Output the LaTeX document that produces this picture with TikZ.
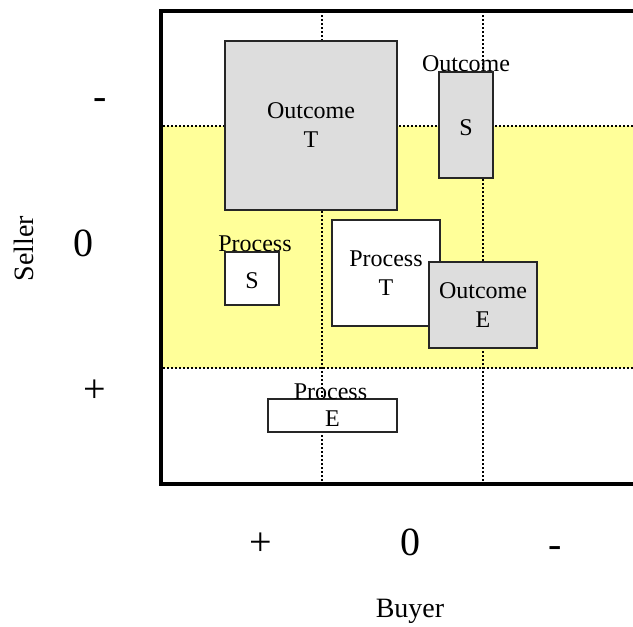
\documentclass[tikz,border=0pt]{standalone}
\usepackage{fontspec}
\setmainfont{Liberation Serif}
\usetikzlibrary{positioning}
\definecolor{bandyellow}{HTML}{FFFF99}
\definecolor{boxgrey}{HTML}{DDDDDD}
\begin{document}
\begin{tikzpicture}
  [x=0.5pt,y=-0.5pt,
   grid/.style={line width=1pt,dash pattern=on 1.2pt off 0.8pt},
   box/.style={draw=black!85,line width=0.6pt,fill=white,inner sep=0pt,
     align=center,font=\fontsize{12}{14.5}\selectfont,
     execute at begin node=\rule{0pt}{10.5pt}},
   outbox/.style={box,fill=boxgrey},
   tag/.style={inner sep=0pt,font=\fontsize{12}{14}\selectfont},
   val/.style={anchor=base,font=\fontsize{20}{24}\selectfont},
   axis/.style={font=\fontsize{14}{17}\selectfont}]
 \useasboundingbox (0,0) rectangle (633,627);

 % band and grid
 \fill[bandyellow] (161,126) rectangle (633,368);
 \foreach \y in {126,368}
   \draw[grid] (163,\y) -- (633,\y);
 \foreach \x in {322,483}
   \draw[grid] (\x,11) -- (\x,484);
 \draw[line width=1.75pt] (633,11) -- (161,11) -- (161,484) -- (633,484);

 % boxes
 \node[outbox,minimum width=86pt,minimum height=84.5pt] (ot) at (311,125.5) {Outcome\\T};
 \node[outbox,minimum width=27pt,minimum height=53pt]   (os) at (466,125)   {S};
 \node[box,minimum width=27pt,minimum height=26.5pt]    (ps) at (252,278.5) {S};
 \node[box,minimum width=54pt,minimum height=53pt]      (pt) at (386,273)   {Process\\T};
 \node[outbox,minimum width=54pt,minimum height=43pt]   (oe) at (483,305)   {Outcome\\E};
 \node[box,minimum width=64.5pt,minimum height=16.5pt]  (pe) at (332.5,415.5) {E};

 \node[tag,above=-0.5pt of os] (osl) {Outcome};
 \node[tag,above=-0.5pt of ps,xshift=1.5pt] (psl) {Process};
 \node[tag,above=-1pt of pe,xshift=-1pt] (pel) {Process};

 % axes
 \node[val] (sminus) at (100.5,109) {-};
 \node[val] (szero)  at (83.5,256)  {0};
 \node[val] (splus)  at (95,402)    {+};
 \node[val] (bplus)  at (261,555)   {+};
 \node[val] (bzero)  at (410,555)   {0};
 \node[val] (bminus) at (555.5,557) {-};
 \node[axis,rotate=90] (seller) at (24,248.5) {Seller};
 \node[axis] (buyer) at (410,611) {Buyer};
\end{tikzpicture}
\end{document}
